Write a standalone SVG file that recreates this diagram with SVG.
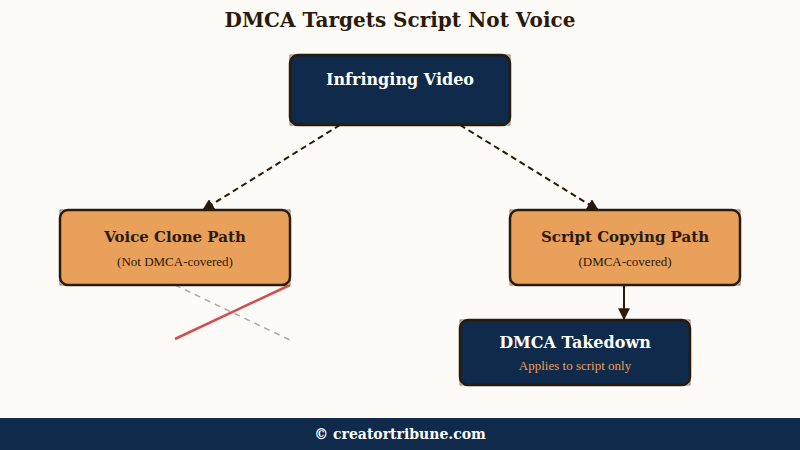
<svg xmlns="http://www.w3.org/2000/svg" width="800" height="450" viewBox="0 0 800 450">
<defs>
<style>
.bg{fill:#fdfbf7}
.frame{fill:#efe6d6;stroke:#6a5a48;stroke-width:0.8}
.dark{fill:#0f2a4a;stroke:#2a1a0a;stroke-width:2.5}
.light{fill:#e8a05a;stroke:#2a1a0a;stroke-width:2.5}
.t{font-family:"DejaVu Serif","Liberation Serif",serif;font-weight:bold;text-anchor:middle}
.s{font-family:"Liberation Serif",serif;text-anchor:middle;font-size:13px}
.conn{stroke:#2a1a0a;stroke-width:2;fill:none}
</style>
<marker id="ah" viewBox="0 0 10 10" refX="9" refY="5" markerWidth="6" markerHeight="6" orient="auto-start-reverse" markerUnits="strokeWidth">
<path d="M0,0 L10,5 L0,10 z" fill="#2a1a0a"/>
</marker>
</defs>
<rect class="bg" x="0" y="0" width="800" height="450"/>
<text class="t" x="400" y="27" font-size="20" fill="#2a1a0a">DMCA Targets Script Not Voice</text>

<g id="connectors">
<line class="conn" x1="340" y1="125" x2="203" y2="210" stroke-dasharray="6,4" marker-end="url(#ah)"/>
<line class="conn" x1="460" y1="125" x2="598" y2="210" stroke-dasharray="6,4" marker-end="url(#ah)"/>
<line class="conn" x1="624" y1="286" x2="624" y2="319" marker-end="url(#ah)"/>
<line x1="175" y1="285" x2="290" y2="340" stroke="#aaaaaa" stroke-width="1.5" stroke-dasharray="6,5"/>
<line x1="175" y1="339" x2="290" y2="285" stroke="#d05050" stroke-width="2.5"/>
</g>

<g id="infringing-video">
<rect class="frame" x="290" y="55" width="220" height="70"/>
<rect class="dark" x="290" y="55" width="220" height="70" rx="8"/>
<text class="t" x="400" y="85" font-size="16" fill="#ffffff">Infringing Video</text>
</g>

<g id="voice-clone-path">
<rect class="frame" x="60" y="210" width="230" height="75"/>
<rect class="light" x="60" y="210" width="230" height="75" rx="8"/>
<text class="t" x="175" y="242" font-size="15" fill="#2a1a0a">Voice Clone Path</text>
<text class="s" x="175" y="266" fill="#2a1a0a">(Not DMCA-covered)</text>
</g>

<g id="script-copying-path">
<rect class="frame" x="510" y="210" width="230" height="75"/>
<rect class="light" x="510" y="210" width="230" height="75" rx="8"/>
<text class="t" x="625" y="242" font-size="15" fill="#2a1a0a">Script Copying Path</text>
<text class="s" x="625" y="266" fill="#2a1a0a">(DMCA-covered)</text>
</g>

<g id="dmca-takedown">
<rect class="frame" x="460" y="320" width="230" height="65"/>
<rect class="dark" x="460" y="320" width="230" height="65" rx="8"/>
<text class="t" x="575" y="348" font-size="16" fill="#ffffff">DMCA Takedown</text>
<text class="s" x="575" y="370" fill="#e8a05a">Applies to script only</text>
</g>

<g id="footer">
<rect x="0" y="418" width="800" height="32" fill="#0f2a4a"/>
<text class="t" x="400" y="439" font-size="14" fill="#ffffff">© creatortribune.com</text>
</g>
</svg>
